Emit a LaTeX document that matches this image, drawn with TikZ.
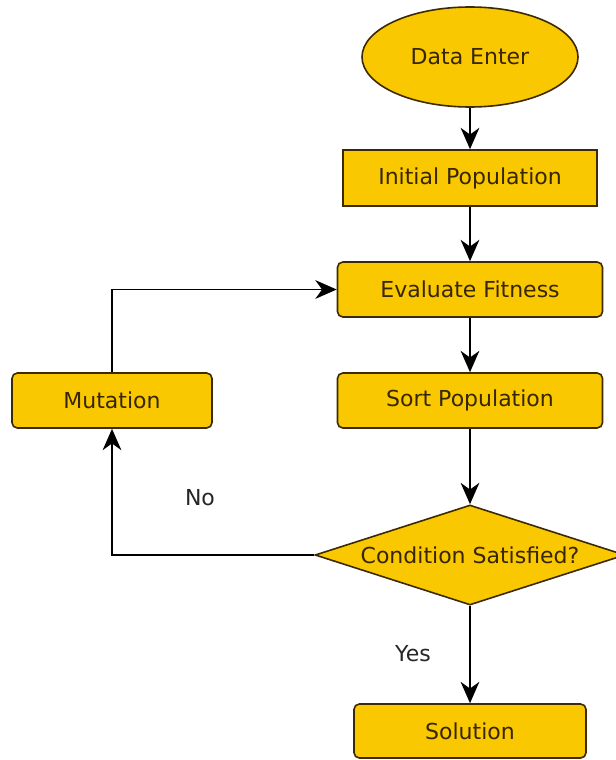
\documentclass[tikz,border=0pt]{standalone}
\usepackage{fontspec}
\setmainfont{DejaVu Sans}
\usetikzlibrary{shapes.geometric,arrows.meta}
\definecolor{gaFill}{RGB}{250,200,0}
\definecolor{gaLine}{RGB}{60,42,5}
\definecolor{gaText}{RGB}{55,38,0}
\tikzset{every picture/.style={line width=0.75pt}}
\tikzset{
  gabox/.style={draw=gaLine,fill=gaFill,text=gaText,line width=1.2pt,inner sep=0pt,font=\fontsize{16.5}{19}\selectfont},
  gaarrow/.style={line width=1.4pt,-{Stealth[length=16pt,width=14pt,inset=5pt]}},
  galabel/.style={inner sep=0.75pt,text=black!85,font=\fontsize{16.5}{19}\selectfont}
}

\begin{document}
\begin{tikzpicture}[x=0.75pt,y=0.75pt,yscale=-1,xscale=1]
\useasboundingbox (0,0) rectangle (616,760);
\node (enter) at (470,57) [gabox,ellipse,minimum width=162pt,minimum height=75pt] {Data Enter};
\node (init) at (470,178) [gabox,rectangle,minimum width=190.5pt,minimum height=42pt] {Initial Population};
\node (eval) at (470,289.5) [gabox,rectangle,rounded corners=4pt,minimum width=198.75pt,minimum height=41.25pt] {Evaluate Fitness};
\node (sort) at (470,400.5) [gabox,rectangle,rounded corners=4pt,minimum width=198.75pt,minimum height=41.25pt] {Sort Population};
\node (mut) at (112,400.5) [gabox,rectangle,rounded corners=4pt,minimum width=150pt,minimum height=41.25pt] {Mutation};
\node (cond) at (470,555) [gabox,diamond,aspect=3,minimum width=232.5pt,minimum height=75pt] {Condition Satisfied?};
\node (sol) at (470,731) [gabox,rectangle,rounded corners=4pt,minimum width=174pt,minimum height=40.5pt] {Solution};
\node (no) at (200,498) [galabel] {No};
\node (yes) at (413,654) [galabel] {Yes};
\draw [gaarrow] (enter) -- (init);
\draw [gaarrow] (init) -- (eval);
\draw [gaarrow] (eval) -- (sort);
\draw [gaarrow] (sort) -- (cond);
\draw [gaarrow] (cond) -- (sol);
\draw [gaarrow] (cond.west) -| (mut.south);
\draw [gaarrow] (mut.north) |- (eval.west);
\end{tikzpicture}
\end{document}
